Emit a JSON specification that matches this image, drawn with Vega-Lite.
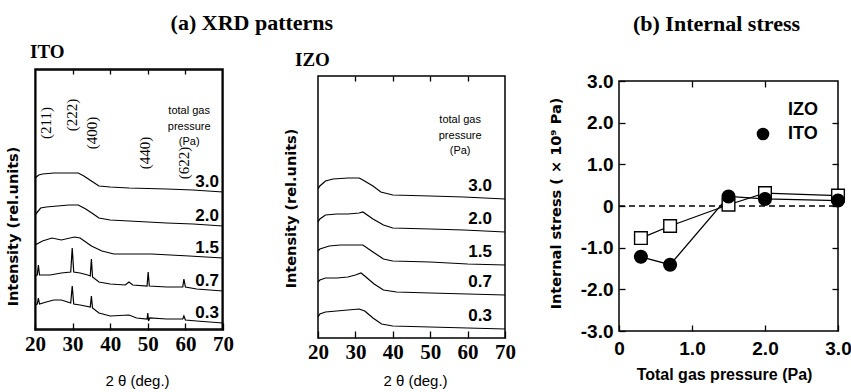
{
  "$schema": "https://vega.github.io/schema/vega-lite/v6.json",
  "background": "white",
  "padding": {"left": 4, "top": 11, "right": 0, "bottom": 0},
  "config": {
    "view": {"stroke": null},
    "axis": {"domain": false, "grid": false, "tickColor": "black", "tickWidth": 1.3, "labelColor": "black", "titleColor": "black"},
    "title": {"color": "black"},
    "text": {"color": "black"}
  },
  "datasets": {
    "ito": [
      {"p": "3.0", "t": 20, "v": 152}, {"p": "3.0", "t": 21, "v": 155}, {"p": "3.0", "t": 22, "v": 156}, {"p": "3.0", "t": 25, "v": 157}, {"p": "3.0", "t": 28, "v": 157}, {"p": "3.0", "t": 31.5, "v": 157}, {"p": "3.0", "t": 33, "v": 154}, {"p": "3.0", "t": 35, "v": 149}, {"p": "3.0", "t": 37, "v": 144}, {"p": "3.0", "t": 40, "v": 143}, {"p": "3.0", "t": 45, "v": 142}, {"p": "3.0", "t": 55, "v": 141}, {"p": "3.0", "t": 62, "v": 140}, {"p": "3.0", "t": 70, "v": 138},
      {"p": "2.0", "t": 20, "v": 115}, {"p": "2.0", "t": 21.5, "v": 122}, {"p": "2.0", "t": 23, "v": 123}, {"p": "2.0", "t": 26, "v": 124}, {"p": "2.0", "t": 29, "v": 125}, {"p": "2.0", "t": 31.5, "v": 125}, {"p": "2.0", "t": 33.5, "v": 121}, {"p": "2.0", "t": 35.5, "v": 116}, {"p": "2.0", "t": 37, "v": 112}, {"p": "2.0", "t": 40, "v": 110}, {"p": "2.0", "t": 45, "v": 109}, {"p": "2.0", "t": 55, "v": 107}, {"p": "2.0", "t": 62, "v": 106}, {"p": "2.0", "t": 70, "v": 104},
      {"p": "1.5", "t": 20, "v": 85}, {"p": "1.5", "t": 22, "v": 89}, {"p": "1.5", "t": 24.5, "v": 92}, {"p": "1.5", "t": 27, "v": 90}, {"p": "1.5", "t": 30.5, "v": 93}, {"p": "1.5", "t": 32, "v": 92}, {"p": "1.5", "t": 35, "v": 84}, {"p": "1.5", "t": 37.8, "v": 79}, {"p": "1.5", "t": 41, "v": 76}, {"p": "1.5", "t": 51, "v": 76}, {"p": "1.5", "t": 61, "v": 74}, {"p": "1.5", "t": 70, "v": 72},
      {"p": "0.7", "t": 20, "v": 54}, {"p": "0.7", "t": 20.6, "v": 55}, {"p": "0.7", "t": 20.9, "v": 65}, {"p": "0.7", "t": 21.2, "v": 55}, {"p": "0.7", "t": 24, "v": 55}, {"p": "0.7", "t": 27, "v": 57}, {"p": "0.7", "t": 29.5, "v": 58}, {"p": "0.7", "t": 29.9, "v": 82}, {"p": "0.7", "t": 30.3, "v": 58}, {"p": "0.7", "t": 32, "v": 57}, {"p": "0.7", "t": 34, "v": 55}, {"p": "0.7", "t": 34.7, "v": 54}, {"p": "0.7", "t": 35, "v": 71}, {"p": "0.7", "t": 35.3, "v": 53}, {"p": "0.7", "t": 37, "v": 48}, {"p": "0.7", "t": 40, "v": 46}, {"p": "0.7", "t": 44, "v": 45}, {"p": "0.7", "t": 45, "v": 48}, {"p": "0.7", "t": 46, "v": 45}, {"p": "0.7", "t": 49.8, "v": 44}, {"p": "0.7", "t": 50.1, "v": 58}, {"p": "0.7", "t": 50.4, "v": 44}, {"p": "0.7", "t": 55, "v": 43}, {"p": "0.7", "t": 59.3, "v": 43}, {"p": "0.7", "t": 59.6, "v": 51}, {"p": "0.7", "t": 60, "v": 43}, {"p": "0.7", "t": 63, "v": 41}, {"p": "0.7", "t": 70, "v": 39},
      {"p": "0.3", "t": 20, "v": 25}, {"p": "0.3", "t": 20.6, "v": 26}, {"p": "0.3", "t": 20.9, "v": 32}, {"p": "0.3", "t": 21.2, "v": 26}, {"p": "0.3", "t": 23, "v": 28}, {"p": "0.3", "t": 25, "v": 30}, {"p": "0.3", "t": 27, "v": 30}, {"p": "0.3", "t": 29.5, "v": 27}, {"p": "0.3", "t": 29.9, "v": 44}, {"p": "0.3", "t": 30.3, "v": 26}, {"p": "0.3", "t": 32, "v": 25}, {"p": "0.3", "t": 34.7, "v": 23}, {"p": "0.3", "t": 35, "v": 34}, {"p": "0.3", "t": 35.3, "v": 22}, {"p": "0.3", "t": 37, "v": 17}, {"p": "0.3", "t": 40, "v": 14}, {"p": "0.3", "t": 45, "v": 15}, {"p": "0.3", "t": 47, "v": 12}, {"p": "0.3", "t": 49.8, "v": 11}, {"p": "0.3", "t": 50, "v": 17}, {"p": "0.3", "t": 50.2, "v": 9}, {"p": "0.3", "t": 50.5, "v": 12}, {"p": "0.3", "t": 55, "v": 11}, {"p": "0.3", "t": 59.3, "v": 11}, {"p": "0.3", "t": 59.6, "v": 14}, {"p": "0.3", "t": 60, "v": 10}, {"p": "0.3", "t": 63, "v": 9}, {"p": "0.3", "t": 70, "v": 7}
    ],
    "izo": [
      {"p": "3.0", "t": 20, "v": 149}, {"p": "3.0", "t": 20.5, "v": 152}, {"p": "3.0", "t": 22, "v": 157}, {"p": "3.0", "t": 24, "v": 159}, {"p": "3.0", "t": 28, "v": 160}, {"p": "3.0", "t": 31, "v": 160}, {"p": "3.0", "t": 32, "v": 158}, {"p": "3.0", "t": 34.7, "v": 152}, {"p": "3.0", "t": 36.8, "v": 146}, {"p": "3.0", "t": 40, "v": 143}, {"p": "3.0", "t": 50, "v": 142}, {"p": "3.0", "t": 59, "v": 141}, {"p": "3.0", "t": 70, "v": 139},
      {"p": "2.0", "t": 20, "v": 116}, {"p": "2.0", "t": 20.5, "v": 119}, {"p": "2.0", "t": 22, "v": 123}, {"p": "2.0", "t": 25, "v": 124}, {"p": "2.0", "t": 28, "v": 124}, {"p": "2.0", "t": 31, "v": 125}, {"p": "2.0", "t": 32, "v": 126}, {"p": "2.0", "t": 34.7, "v": 119}, {"p": "2.0", "t": 37.5, "v": 113}, {"p": "2.0", "t": 40, "v": 110}, {"p": "2.0", "t": 50, "v": 109}, {"p": "2.0", "t": 59, "v": 108}, {"p": "2.0", "t": 70, "v": 106},
      {"p": "1.5", "t": 20, "v": 87}, {"p": "1.5", "t": 20.5, "v": 89}, {"p": "1.5", "t": 23, "v": 92}, {"p": "1.5", "t": 26, "v": 93}, {"p": "1.5", "t": 29, "v": 93}, {"p": "1.5", "t": 32, "v": 93}, {"p": "1.5", "t": 34.7, "v": 86}, {"p": "1.5", "t": 37.5, "v": 79}, {"p": "1.5", "t": 40, "v": 77}, {"p": "1.5", "t": 50, "v": 76}, {"p": "1.5", "t": 60, "v": 74}, {"p": "1.5", "t": 70, "v": 73},
      {"p": "0.7", "t": 20, "v": 56}, {"p": "0.7", "t": 20.5, "v": 58}, {"p": "0.7", "t": 22, "v": 60}, {"p": "0.7", "t": 25, "v": 60}, {"p": "0.7", "t": 28, "v": 61}, {"p": "0.7", "t": 30, "v": 63}, {"p": "0.7", "t": 31.5, "v": 65}, {"p": "0.7", "t": 32.5, "v": 62}, {"p": "0.7", "t": 35, "v": 54}, {"p": "0.7", "t": 37.5, "v": 48}, {"p": "0.7", "t": 41, "v": 46}, {"p": "0.7", "t": 50, "v": 45}, {"p": "0.7", "t": 60, "v": 44}, {"p": "0.7", "t": 70, "v": 43},
      {"p": "0.3", "t": 20, "v": 21}, {"p": "0.3", "t": 20.5, "v": 24}, {"p": "0.3", "t": 22, "v": 26}, {"p": "0.3", "t": 25, "v": 27}, {"p": "0.3", "t": 28, "v": 28}, {"p": "0.3", "t": 31, "v": 29}, {"p": "0.3", "t": 32.5, "v": 27}, {"p": "0.3", "t": 34.7, "v": 20}, {"p": "0.3", "t": 37, "v": 14}, {"p": "0.3", "t": 40, "v": 12}, {"p": "0.3", "t": 50, "v": 11}, {"p": "0.3", "t": 60, "v": 10}, {"p": "0.3", "t": 70, "v": 9}
    ],
    "peaks": [
      {"t": 22.9, "v": 207, "hkl": "(211)"},
      {"t": 29.8, "v": 215, "hkl": "(222)"},
      {"t": 35.2, "v": 197, "hkl": "(400)"},
      {"t": 49.3, "v": 177, "hkl": "(440)"},
      {"t": 59.6, "v": 167, "hkl": "(622)"}
    ],
    "cap_ito": [{"t": 61, "v": 219, "cap": "total gas\npressure\n(Pa)"}],
    "cap_izo": [{"t": 58, "v": 218, "cap": "total gas\npressure\n(Pa)"}],
    "frame_ito": [{"t1": 20.2, "t2": 69.8, "v1": 1, "v2": 260}],
    "frame_izo": [{"t1": 20, "t2": 70, "v1": 0, "v2": 262}],
    "frame_stress": [{"p1": 0, "p2": 3, "v1": -3, "v2": 3}],
    "stress": [
      {"s": "IZO", "p": 0.3, "v": -0.77}, {"s": "IZO", "p": 0.7, "v": -0.48}, {"s": "IZO", "p": 1.5, "v": 0.03}, {"s": "IZO", "p": 2.0, "v": 0.31}, {"s": "IZO", "p": 3.0, "v": 0.25},
      {"s": "ITO", "p": 0.3, "v": -1.22}, {"s": "ITO", "p": 0.7, "v": -1.41}, {"s": "ITO", "p": 1.5, "v": 0.23}, {"s": "ITO", "p": 2.0, "v": 0.17}, {"s": "ITO", "p": 3.0, "v": 0.13}
    ]
  },
  "resolve": {"legend": {"fill": "independent", "shape": "independent"}},
  "columns": 2,
  "spacing": 32,
  "concat": [
    {
      "title": {"text": "(a) XRD patterns", "font": "Liberation Serif", "fontSize": 22, "fontWeight": "bold", "anchor": "middle", "dx": -8, "offset": 7.5},
      "spacing": 48,
      "hconcat": [
        {
          "width": 188, "height": 261,
          "view": {"stroke": "black", "strokeWidth": 1.5},
          "title": {"text": "ITO", "font": "Liberation Serif", "fontSize": 19, "fontWeight": "bold", "anchor": "start", "dx": 25, "offset": 6.5},
          "resolve": {"axis": {"x": "independent", "y": "independent"}},
          "layer": [
            {
              "data": {"name": "frame_ito"},
              "mark": {"type": "rect", "filled": false, "stroke": "black", "strokeWidth": 1.6},
              "encoding": {
                "x": {"field": "t1", "type": "quantitative", "scale": {"domain": [20, 70]}, "axis": null},
                "x2": {"field": "t2"},
                "y": {"field": "v1", "type": "quantitative", "scale": {"domain": [0, 261], "nice": false}, "axis": null},
                "y2": {"field": "v2"}
              }
            },
            {
              "data": {"name": "ito"},
              "mark": {"type": "line", "color": "black", "strokeWidth": 1.2},
              "encoding": {
                "x": {"field": "t", "type": "quantitative", "scale": {"domain": [20, 70]},
                  "axis": {"orient": "bottom", "values": [20, 30, 40, 50, 60, 70], "tickSize": -7, "labelFlush": false, "labelFont": "Liberation Serif", "labelFontSize": 21, "labelFontWeight": "bold", "labelPadding": 10, "title": "2 θ (deg.)", "titleFont": "Liberation Sans", "titleFontSize": 15, "titleFontWeight": "normal", "titleX": 102, "titleY": 50, "titleBaseline": "middle", "titleAlign": "center"}},
                "y": {"field": "v", "type": "quantitative", "scale": {"domain": [0, 261], "nice": false},
                  "axis": {"orient": "left", "ticks": false, "labels": false, "title": "Intensity (rel.units)", "titleFont": "DejaVu Sans", "titleFontSize": 14.5, "titleFontWeight": "bold", "titlePadding": 15, "titleY": 157}},
                "detail": {"field": "p"}
              }
            },
            {
              "data": {"name": "ito"},
              "transform": [{"filter": "datum.t == 70"}],
              "mark": {"type": "text", "align": "right", "baseline": "middle", "dx": -4, "dy": -10, "font": "Liberation Sans", "fontSize": 17, "fontWeight": "bold"},
              "encoding": {
                "x": {"field": "t", "type": "quantitative", "scale": {"domain": [20, 70]}, "axis": {"orient": "top", "values": [30, 40, 50, 60], "tickSize": -5, "labels": false, "title": null}},
                "y": {"field": "v", "type": "quantitative", "scale": {"domain": [0, 261], "nice": false}, "axis": null},
                "text": {"field": "p"}
              }
            },
            {
              "data": {"name": "peaks"},
              "mark": {"type": "text", "angle": 270, "align": "center", "baseline": "middle", "font": "Liberation Serif", "fontSize": 15},
              "encoding": {
                "x": {"field": "t", "type": "quantitative", "scale": {"domain": [20, 70]}, "axis": null},
                "y": {"field": "v", "type": "quantitative", "scale": {"domain": [0, 261], "nice": false}, "axis": null},
                "text": {"field": "hkl"}
              }
            },
            {
              "data": {"name": "cap_ito"},
              "mark": {"type": "text", "lineBreak": "\n", "lineHeight": 15.5, "align": "center", "baseline": "middle", "font": "Liberation Sans", "fontSize": 11},
              "encoding": {
                "x": {"field": "t", "type": "quantitative", "scale": {"domain": [20, 70]}, "axis": null},
                "y": {"field": "v", "type": "quantitative", "scale": {"domain": [0, 261], "nice": false}, "axis": null},
                "text": {"field": "cap"}
              }
            }
          ]
        },
        {
          "width": 187, "height": 269,
          "title": {"text": "IZO", "font": "Liberation Serif", "fontSize": 19, "fontWeight": "bold", "anchor": "start", "dx": 12, "offset": -0.5},
          "resolve": {"axis": {"x": "independent", "y": "independent"}},
          "layer": [
            {
              "data": {"name": "frame_izo"},
              "mark": {"type": "rect", "filled": false, "stroke": "black", "strokeWidth": 1.5},
              "encoding": {
                "x": {"field": "t1", "type": "quantitative", "scale": {"domain": [20, 70]}, "axis": null},
                "x2": {"field": "t2"},
                "y": {"field": "v1", "type": "quantitative", "scale": {"domain": [0, 269], "nice": false}, "axis": null},
                "y2": {"field": "v2"}
              }
            },
            {
              "data": {"name": "izo"},
              "mark": {"type": "line", "color": "black", "strokeWidth": 1.2},
              "encoding": {
                "x": {"field": "t", "type": "quantitative", "scale": {"domain": [20, 70]},
                  "axis": {"orient": "bottom", "values": [20, 30, 40, 50, 60, 70], "tickSize": -7, "labelFlush": false, "labelFont": "Liberation Serif", "labelFontSize": 21, "labelFontWeight": "bold", "labelPadding": 10, "title": "2 θ (deg.)", "titleFont": "Liberation Sans", "titleFontSize": 15, "titleFontWeight": "normal", "titleX": 97, "titleY": 42, "titleBaseline": "middle", "titleAlign": "center"}},
                "y": {"field": "v", "type": "quantitative", "scale": {"domain": [0, 269], "nice": false},
                  "axis": {"orient": "left", "ticks": false, "labels": false, "title": "Intensity (rel.units)", "titleFont": "DejaVu Sans", "titleFontSize": 14.5, "titleFontWeight": "bold", "titlePadding": 20, "titleY": 139}},
                "detail": {"field": "p"}
              }
            },
            {
              "data": {"name": "izo"},
              "transform": [{"filter": "datum.t == 70"}],
              "mark": {"type": "text", "align": "right", "baseline": "middle", "dx": -13, "dy": -13, "font": "Liberation Sans", "fontSize": 17, "fontWeight": "bold"},
              "encoding": {
                "x": {"field": "t", "type": "quantitative", "scale": {"domain": [20, 70]}, "axis": {"orient": "top", "offset": -7, "values": [30, 40, 50, 60], "tickSize": -5, "labels": false, "title": null}},
                "y": {"field": "v", "type": "quantitative", "scale": {"domain": [0, 269], "nice": false}, "axis": null},
                "text": {"field": "p"}
              }
            },
            {
              "data": {"name": "cap_izo"},
              "mark": {"type": "text", "lineBreak": "\n", "lineHeight": 15.5, "align": "center", "baseline": "middle", "font": "Liberation Sans", "fontSize": 11},
              "encoding": {
                "x": {"field": "t", "type": "quantitative", "scale": {"domain": [20, 70]}, "axis": null},
                "y": {"field": "v", "type": "quantitative", "scale": {"domain": [0, 269], "nice": false}, "axis": null},
                "text": {"field": "cap"}
              }
            }
          ]
        }
      ]
    },
    {
      "width": 219, "height": 262,
      "title": {"text": "(b) Internal stress", "font": "Liberation Serif", "fontSize": 22, "fontWeight": "bold", "anchor": "middle", "dx": -12, "offset": 33},
      "resolve": {"axis": {"x": "independent", "y": "independent"}},
      "layer": [
        {
          "data": {"name": "frame_stress"},
          "mark": {"type": "rect", "filled": false, "stroke": "black", "strokeWidth": 1.5},
          "encoding": {
            "x": {"field": "p1", "type": "quantitative", "scale": {"domain": [0, 3]}, "axis": null},
            "x2": {"field": "p2"},
            "y": {"field": "v1", "type": "quantitative", "scale": {"domain": [-3, 3.288], "nice": false}, "axis": null},
            "y2": {"field": "v2"}
          }
        },
        {
          "data": {"name": "frame_stress"},
          "mark": {"type": "rule", "strokeDash": [6, 4], "color": "black", "strokeWidth": 1.3},
          "encoding": {
            "x": {"field": "p1", "type": "quantitative", "scale": {"domain": [0, 3]}, "axis": null},
            "x2": {"field": "p2"},
            "y": {"datum": 0, "type": "quantitative", "scale": {"domain": [-3, 3.288], "nice": false}, "axis": null}
          }
        },
        {
          "data": {"name": "stress"},
          "mark": {"type": "line", "color": "black", "strokeWidth": 1.3},
          "encoding": {
            "x": {"field": "p", "type": "quantitative", "scale": {"domain": [0, 3]},
              "axis": {"orient": "bottom", "values": [0, 1, 2, 3], "tickSize": -6, "labelFlush": false, "labelExpr": "datum.value == 0 ? '0' : format(datum.value, '.1f')", "labelFont": "Liberation Sans", "labelFontSize": 19, "labelFontWeight": "bold", "labelPadding": 14, "title": "Total gas pressure (Pa)", "titleFont": "Liberation Sans", "titleFontSize": 16, "titleFontWeight": "bold", "titleX": 105, "titleY": 43, "titleBaseline": "middle", "titleAlign": "center"}},
            "y": {"field": "v", "type": "quantitative", "scale": {"domain": [-3, 3.288], "nice": false},
              "axis": {"orient": "left", "values": [-3, -2, -1, 0, 1, 2, 3], "tickSize": -6, "labelExpr": "datum.value == 0 ? '0' : (datum.value < 0 ? '-' + format(-datum.value, '.1f') : format(datum.value, '.1f'))", "labelFont": "Liberation Sans", "labelFontSize": 19, "labelFontWeight": "bold", "labelPadding": 12, "title": "Internal stress ( × 10⁹ Pa)", "titleFont": "DejaVu Sans", "titleFontSize": 14.5, "titleFontWeight": "bold", "titlePadding": 17, "titleY": 134}},
            "detail": {"field": "s"}
          }
        },
        {
          "data": {"name": "stress"},
          "mark": {"type": "point", "filled": true, "stroke": "black", "strokeWidth": 1.4, "size": 160, "opacity": 1},
          "encoding": {
            "x": {"field": "p", "type": "quantitative", "scale": {"domain": [0, 3]}, "axis": {"orient": "top", "offset": -12, "values": [1, 2], "tickSize": -6, "labels": false, "title": null}},
            "y": {"field": "v", "type": "quantitative", "scale": {"domain": [-3, 3.288], "nice": false}, "axis": {"orient": "right", "values": [-2, -1, 0, 1, 2], "tickSize": -6, "labels": false, "title": null}},
            "shape": {"field": "s", "type": "nominal", "scale": {"domain": ["IZO", "ITO"], "range": ["square", "circle"]},
              "legend": {"title": null, "orient": "none", "legendX": 135, "legendY": 32, "padding": 0, "symbolSize": 160, "symbolStrokeWidth": 1.5, "symbolStrokeColor": "black", "labelFont": "Liberation Sans", "labelFontSize": 18, "labelFontWeight": "bold", "labelColor": "black", "labelOffset": 16, "rowPadding": 4,
                "encode": {"symbols": {"stroke": {"value": "black"}, "strokeWidth": {"value": 1.5}}}}},
            "fill": {"field": "s", "type": "nominal", "scale": {"domain": ["IZO", "ITO"], "range": ["white", "black"]},
              "legend": {"title": null, "orient": "none", "legendX": 135, "legendY": 32, "padding": 0, "symbolSize": 160, "symbolStrokeWidth": 1.5, "symbolStrokeColor": "black", "labelFont": "Liberation Sans", "labelFontSize": 18, "labelFontWeight": "bold", "labelColor": "black", "labelOffset": 16, "rowPadding": 4,
                "encode": {"symbols": {"stroke": {"value": "black"}, "strokeWidth": {"value": 1.5}}}}}
          }
        }
      ]
    }
  ]
}
